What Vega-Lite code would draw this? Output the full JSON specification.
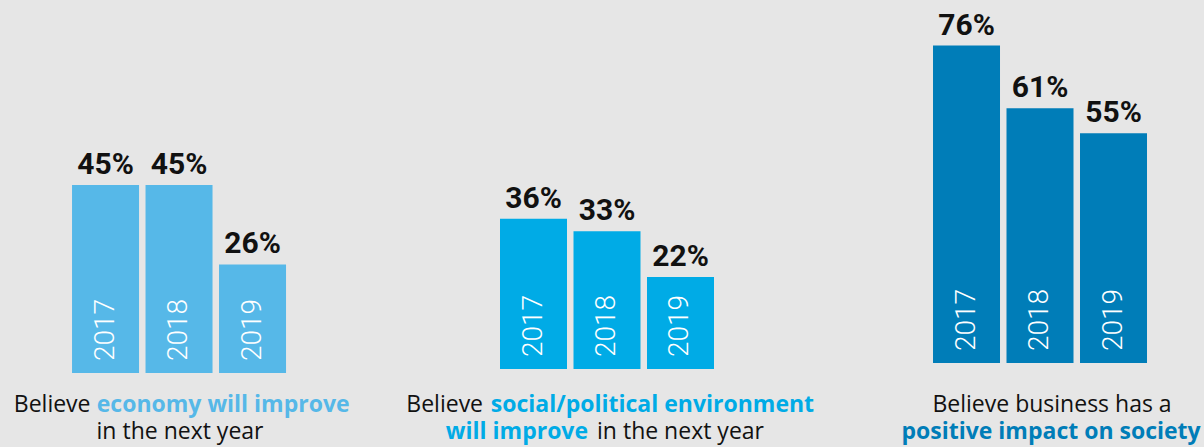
{
  "$schema": "https://vega.github.io/schema/vega-lite/v6.json",
  "padding": 0,
  "background": "#e6e6e6",
  "spacing": 0,
  "config": {"view": {"stroke": null, "fill": "#e6e6e6"}, "concat": {"spacing": 0}},
  "datasets": {
    "bars": [
      {"group": "economy", "year": "2017", "value": 45, "label": "45%"},
      {"group": "economy", "year": "2018", "value": 45, "label": "45%"},
      {"group": "economy", "year": "2019", "value": 26, "label": "26%"},
      {"group": "social", "year": "2017", "value": 36, "label": "36%"},
      {"group": "social", "year": "2018", "value": 33, "label": "33%"},
      {"group": "social", "year": "2019", "value": 22, "label": "22%"},
      {"group": "business", "year": "2017", "value": 76, "label": "76%"},
      {"group": "business", "year": "2018", "value": 61, "label": "61%"},
      {"group": "business", "year": "2019", "value": 55, "label": "55%"}
    ],
    "captions": [
      {"group": "economy", "line": 1, "part": "a", "text": "Believe"},
      {"group": "economy", "line": 1, "part": "b", "text": "economy will improve"},
      {"group": "economy", "line": 2, "part": "a", "text": "in the next year"},
      {"group": "social", "line": 1, "part": "a", "text": "Believe"},
      {"group": "social", "line": 1, "part": "b", "text": "social/political environment"},
      {"group": "social", "line": 2, "part": "a", "text": "will improve"},
      {"group": "social", "line": 2, "part": "b", "text": "in the next year"},
      {"group": "business", "line": 1, "part": "a", "text": "Believe business has a"},
      {"group": "business", "line": 2, "part": "a", "text": "positive impact on society"}
    ]
  },
  "vconcat": [
    {
      "spacing": 139,
      "bounds": "flush",
      "hconcat": [
        {
          "width": 361,
          "height": 373,
          "data": {"name": "bars"},
          "transform": [{"filter": "datum.group === 'economy'"}],
          "encoding": {
            "x": {"field": "year", "type": "nominal", "axis": null, "scale": {"paddingInner": 0.0884, "paddingOuter": 1, "align": 0.49}},
            "y": {"field": "value", "type": "quantitative", "axis": null, "scale": {"domain": [0, 89.3], "nice": false}}
          },
          "layer": [
            {"mark": {"type": "bar", "color": "#56B8E8"}},
            {"mark": {"type": "text", "baseline": "alphabetic", "dy": -11, "font": "Roboto", "fontWeight": "bold", "fontSize": 30, "color": "#111111"}, "encoding": {"text": {"field": "label"}}},
            {"mark": {"type": "text", "angle": 270, "align": "left", "baseline": "middle", "dx": 12, "font": "Roboto", "fontWeight": 300, "fontSize": 28, "color": "#ffffff"}, "encoding": {"y": {"datum": 0}, "text": {"field": "year"}}}
          ]
        },
        {
          "width": 214,
          "height": 369,
          "data": {"name": "bars"},
          "transform": [{"filter": "datum.group === 'social'"}],
          "encoding": {
            "x": {"field": "year", "type": "nominal", "axis": null, "scale": {"paddingInner": 0.0884, "paddingOuter": 0}},
            "y": {"field": "value", "type": "quantitative", "axis": null, "scale": {"domain": [0, 88.34], "nice": false}}
          },
          "layer": [
            {"mark": {"type": "bar", "color": "#00ABE6"}},
            {"mark": {"type": "text", "baseline": "alphabetic", "dy": -11, "font": "Roboto", "fontWeight": "bold", "fontSize": 30, "color": "#111111"}, "encoding": {"text": {"field": "label"}}},
            {"mark": {"type": "text", "angle": 270, "align": "left", "baseline": "middle", "dx": 12, "font": "Roboto", "fontWeight": 300, "fontSize": 28, "color": "#ffffff"}, "encoding": {"y": {"datum": 0}, "text": {"field": "year"}}}
          ]
        },
        {
          "width": 351,
          "height": 363,
          "data": {"name": "bars"},
          "transform": [{"filter": "datum.group === 'business'"}],
          "encoding": {
            "x": {"field": "year", "type": "nominal", "axis": null, "scale": {"paddingInner": 0.0884, "paddingOuter": 0.932, "align": 0.584}},
            "y": {"field": "value", "type": "quantitative", "axis": null, "scale": {"domain": [0, 86.9], "nice": false}}
          },
          "layer": [
            {"mark": {"type": "bar", "color": "#007DB8"}},
            {"mark": {"type": "text", "baseline": "alphabetic", "dy": -11, "font": "Roboto", "fontWeight": "bold", "fontSize": 30, "color": "#111111"}, "encoding": {"text": {"field": "label"}}},
            {"mark": {"type": "text", "angle": 270, "align": "left", "baseline": "middle", "dx": 12, "font": "Roboto", "fontWeight": 300, "fontSize": 28, "color": "#ffffff"}, "encoding": {"y": {"datum": 0}, "text": {"field": "year"}}}
          ]
        }
      ]
    },
    {
      "width": 1204,
      "height": 74,
      "data": {"name": "captions"},
      "encoding": {
        "x": {"field": "group", "type": "nominal", "axis": null, "scale": {"type": "point", "domain": ["economy", "social", "business"], "padding": 0.3983, "align": 0.522}},
        "y": {"field": "line", "type": "ordinal", "axis": null, "scale": {"type": "point", "domain": [1, 2], "padding": 0.8704, "align": 0.83}},
        "text": {"field": "text"}
      },
      "layer": [
        {"transform": [{"filter": "datum.group === 'economy' && datum.line === 1 && datum.part === 'a'"}], "mark": {"type": "text", "font": "Open Sans", "fontSize": 23, "baseline": "alphabetic", "align": "right", "dx": -88.5, "color": "#111111"}},
        {"transform": [{"filter": "datum.group === 'economy' && datum.line === 1 && datum.part === 'b'"}], "mark": {"type": "text", "font": "Open Sans", "fontSize": 23, "fontWeight": "bold", "baseline": "alphabetic", "align": "left", "dx": -82.3, "color": "#56B8E8"}},
        {"transform": [{"filter": "datum.group === 'economy' && datum.line === 2 && datum.part === 'a'"}], "mark": {"type": "text", "font": "Open Sans", "fontSize": 23, "baseline": "alphabetic", "align": "center", "dx": 1, "color": "#111111"}},
        {"transform": [{"filter": "datum.group === 'social' && datum.line === 1 && datum.part === 'a'"}], "mark": {"type": "text", "font": "Open Sans", "fontSize": 23, "baseline": "alphabetic", "align": "right", "dx": -126.5, "color": "#111111"}},
        {"transform": [{"filter": "datum.group === 'social' && datum.line === 1 && datum.part === 'b'"}], "mark": {"type": "text", "font": "Open Sans", "fontSize": 23, "fontWeight": "bold", "baseline": "alphabetic", "align": "left", "dx": -118.8, "color": "#00ABE6"}},
        {"transform": [{"filter": "datum.group === 'social' && datum.line === 2 && datum.part === 'a'"}], "mark": {"type": "text", "font": "Open Sans", "fontSize": 23, "fontWeight": "bold", "baseline": "alphabetic", "align": "right", "dx": -21.5, "color": "#00ABE6"}},
        {"transform": [{"filter": "datum.group === 'social' && datum.line === 2 && datum.part === 'b'"}], "mark": {"type": "text", "font": "Open Sans", "fontSize": 23, "baseline": "alphabetic", "align": "left", "dx": -12.5, "color": "#111111"}},
        {"transform": [{"filter": "datum.group === 'business' && datum.line === 1 && datum.part === 'a'"}], "mark": {"type": "text", "font": "Open Sans", "fontSize": 23, "baseline": "alphabetic", "align": "center", "dx": 12, "color": "#111111"}},
        {"transform": [{"filter": "datum.group === 'business' && datum.line === 2 && datum.part === 'a'"}], "mark": {"type": "text", "font": "Open Sans", "fontSize": 23, "fontWeight": "bold", "baseline": "alphabetic", "align": "center", "dx": 11, "color": "#007DB8"}}
      ]
    }
  ]
}
